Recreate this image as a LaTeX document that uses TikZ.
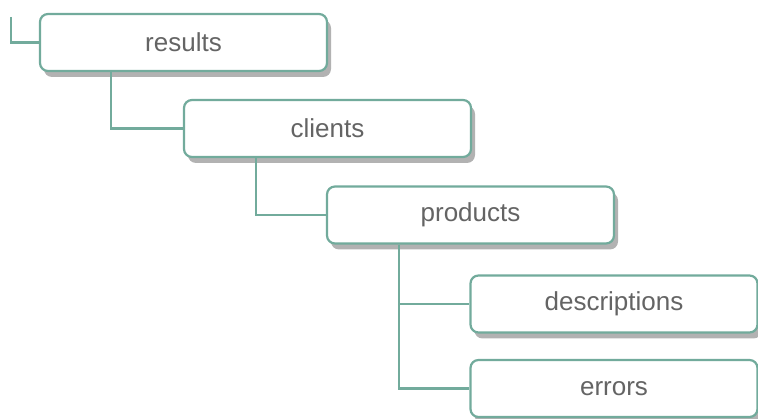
\documentclass[tikz,border=0pt]{standalone}
\usepackage{fontspec}
\setmainfont{Liberation Sans}
\usetikzlibrary{shadows,positioning}
\definecolor{teal}{HTML}{72AB9C}
\definecolor{textgray}{HTML}{646464}
\tikzset{
    % Define style for tree boxes
    folder/.style={
           rectangle,
           rounded corners=8pt,
           draw=teal, line width=2.2pt,
           fill=white,
           minimum height=57pt,
           minimum width=287pt,
           text=textgray,
           font=\fontsize{26}{31}\selectfont,
           drop shadow={shadow xshift=4pt, shadow yshift=-6pt, fill=black, opacity=0.3},
           text centered},
    % Define connector style
    branch/.style={
           draw=teal,
           line width=2.2pt}
}

\begin{document}
\begin{tikzpicture}[x=1pt,y=-1pt]
\useasboundingbox (0,0) rectangle (758,419);

\coordinate (root) at (11,17);
\node[folder] (results) at (183.5,42.5) {results};
\node[folder] (clients) at (327.5,128.5) {clients};
\node[folder] (products) at (470.5,215) {products};
\node[folder] (descriptions) at (614,304) {descriptions};
\node[folder] (errors) at (614,388.5) {errors};

\draw[branch] (root) |- (results.west);
\draw[branch] ([xshift=72pt]results.south west) |- (clients.west);
\draw[branch] ([xshift=73pt]clients.south west) |- (products.west);
\draw[branch] ([xshift=73pt]products.south west) |- (descriptions.west);
\draw[branch] ([xshift=73pt]products.south west) |- (errors.west);

\end{tikzpicture}
\end{document}
